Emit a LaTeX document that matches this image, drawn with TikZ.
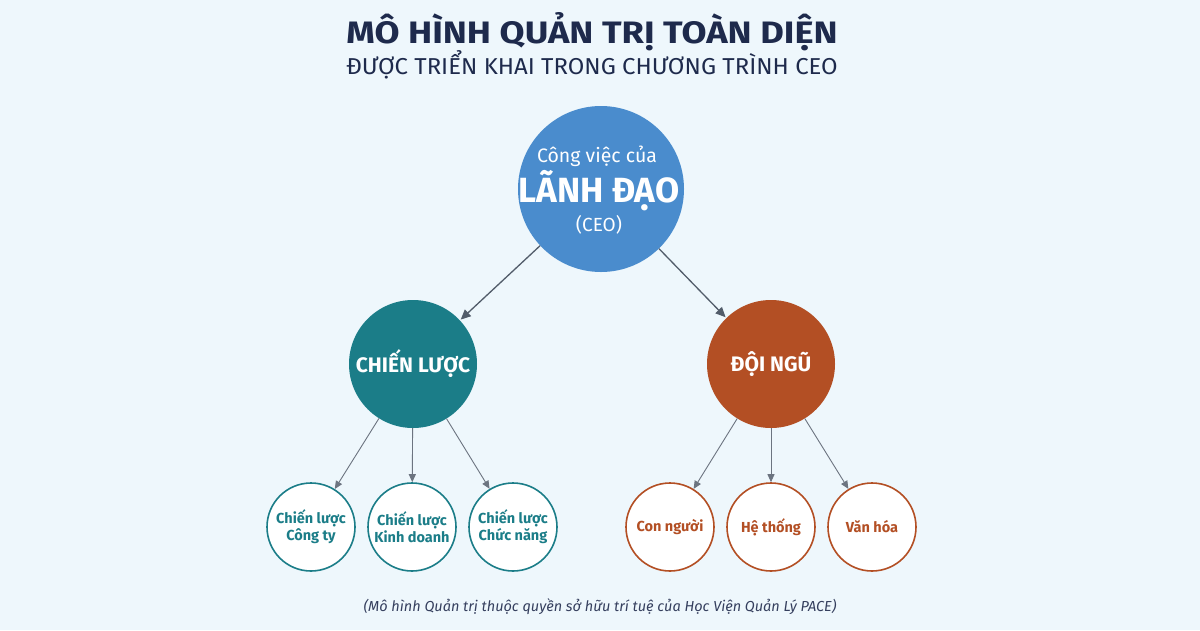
\documentclass[tikz,border=0pt]{standalone}
\usepackage{fontspec}
\setmainfont{Fira Sans}
\usetikzlibrary{arrows.meta}
\definecolor{bgc}{HTML}{EEF7FC}
\definecolor{navy}{HTML}{1E2A4C}
\definecolor{blueC}{HTML}{4A8CCD}
\definecolor{tealC}{HTML}{1B7D88}
\definecolor{orangeC}{HTML}{B34F24}
\definecolor{arrC}{HTML}{525C6A}
\tikzset{
  big/.style={circle, minimum size=#1, inner sep=0pt, align=center, text=white},
  small/.style={circle, draw=#1, line width=1.6pt, fill=white, minimum size=88pt, inner sep=0pt, align=center, text=#1, font=\fontsize{14.5}{17}\selectfont\bfseries},
  toparr/.style={draw=arrC, line width=1.3pt, -{Triangle[length=10pt,width=9pt]}},
  subarr/.style={draw=arrC!85, line width=0.9pt, -{Triangle[length=8pt,width=7pt]}}
}
\begin{document}
\begin{tikzpicture}[x=1pt,y=-1pt]
\fill[bgc] (0,0) rectangle (1200,630);
\useasboundingbox (0,0) rectangle (1200,630);
\node[text=navy, font=\fontsize{31}{36}\selectfont\bfseries] (title) at (592,32) {\scalebox{1.17}[1]{MÔ HÌNH QUẢN TRỊ TOÀN DIỆN}};
\node[text=navy, font=\fontsize{23}{28}\selectfont] (sub) at (592,65) {\scalebox{1.04}[1]{ĐƯỢC TRIỂN KHAI TRONG CHƯƠNG TRÌNH CEO}};
\node[big=166pt, fill=blueC] (ceo) at (601,189) {};
\node[text=white, font=\fontsize{19.5}{22}\selectfont] (l1) at (597,156) {Công việc của};
\node[text=white, font=\fontsize{35}{40}\selectfont\bfseries] (l2) at (599,191) {LÃNH ĐẠO};
\node[text=white, font=\fontsize{19}{22}\selectfont] (l3) at (599,225) {(CEO)};
\node[big=128pt, fill=tealC, font=\fontsize{21}{24}\selectfont\bfseries] (cl) at (413,364) {CHIẾN LƯỢC};
\node[big=128pt, fill=orangeC, font=\fontsize{21}{24}\selectfont\bfseries] (dn) at (771,364) {ĐỘI NGŨ};
\node[small=tealC] (c1) at (311,527) {Chiến lược\\Công ty};
\node[small=tealC] (c2) at (412,527) {Chiến lược\\Kinh doanh};
\node[small=tealC] (c3) at (513,527) {Chiến lược\\Chức năng};
\node[small=orangeC] (d1) at (670,527) {Con người};
\node[small=orangeC] (d2) at (771,527) {Hệ thống};
\node[small=orangeC] (d3) at (872,527) {Văn hóa};
\draw[toparr, shorten >=1pt] (ceo) -- (cl);
\draw[toparr, shorten >=1pt] (ceo) -- (dn);
\foreach \a/\b in {cl/c1, cl/c2, cl/c3, dn/d1, dn/d2, dn/d3} \draw[subarr] (\a) -- (\b);
\node[text=navy!90, font=\fontsize{14.5}{17}\selectfont\itshape] (foot) at (600,607) {(Mô hình Quản trị thuộc quyền sở hữu trí tuệ của Học Viện Quản Lý PACE)};
\end{tikzpicture}
\end{document}
